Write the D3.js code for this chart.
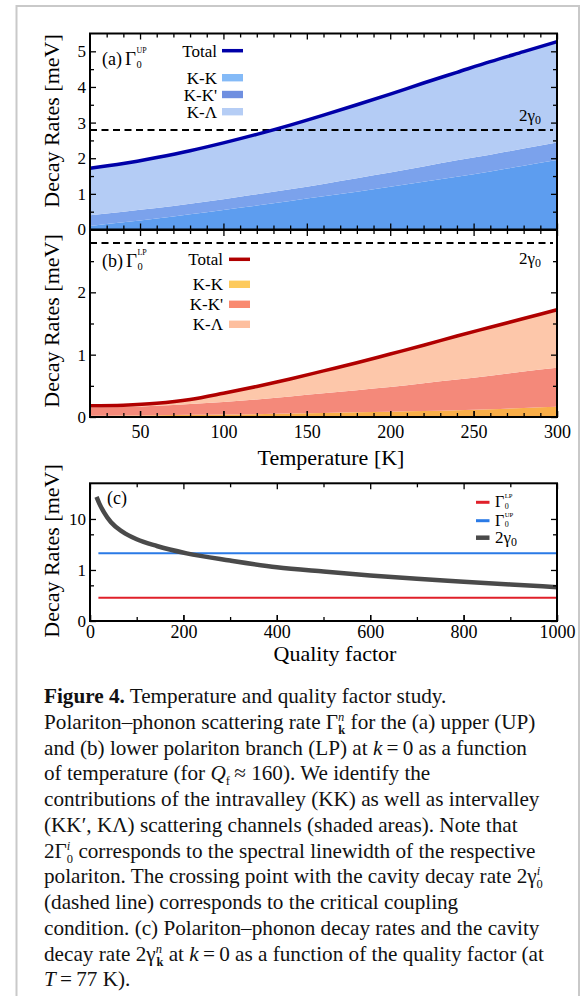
<!DOCTYPE html>
<html>
<head>
<meta charset="utf-8">
<script src="https://cdn.jsdelivr.net/npm/d3@7"></script>
<style>
  body { margin: 0; background: #fff; }
  svg { display: block; font-family: "Liberation Serif", "Times New Roman", serif; }
  .axis path { display: none; }
  .axis line { stroke: #000; stroke-width: 1.3; }
  .axis text { font-family: "Liberation Serif", serif; fill: #000; }
</style>
</head>
<body>
<script>
// Temperatures (K) for panels (a) and (b)
var temps = [20, 40, 60, 80, 100, 120, 140, 160, 180, 200, 220, 240, 260, 280, 300];

// Upper polariton, contribution of each scattering channel (meV)
var upKK  = [0.10, 0.20, 0.31, 0.43, 0.55, 0.67, 0.80, 0.93, 1.06, 1.20, 1.34, 1.48, 1.63, 1.79, 1.95];
var upKKp = [0.30, 0.30, 0.29, 0.29, 0.30, 0.32, 0.33, 0.35, 0.38, 0.40, 0.43, 0.46, 0.47, 0.48, 0.49];
var upKL  = [1.32, 1.35, 1.42, 1.49, 1.58, 1.68, 1.80, 1.93, 2.06, 2.20, 2.34, 2.47, 2.61, 2.72, 2.83];

// Lower polariton, contribution of each scattering channel (meV)
var lpKK  = [0.020, 0.025, 0.030, 0.035, 0.040, 0.045, 0.055, 0.065, 0.075, 0.085, 0.095, 0.110, 0.125, 0.145, 0.165];
var lpKKp = [0.130, 0.135, 0.150, 0.175, 0.200, 0.235, 0.275, 0.315, 0.355, 0.395, 0.445, 0.490, 0.535, 0.585, 0.625];
var lpKL  = [0.03, 0.03, 0.04, 0.07, 0.14, 0.21, 0.28, 0.36, 0.44, 0.53, 0.61, 0.70, 0.78, 0.85, 0.93];

// cavity decay rate 2*gamma0 (dashed line, Qf ~ 160)
var cavityRate = 2.79;

// Panel (c): quality factor study at T = 77 K
var qFactor = [14, 20, 30, 45, 70, 100, 143, 207, 300, 400, 500, 600, 700, 800, 900, 1000];
var cavityVsQ = [27, 20, 13.5, 8.6, 5.6, 4.0, 2.95, 2.12, 1.53, 1.13, 0.93, 0.78, 0.67, 0.59, 0.52, 0.46];
var qFlat = [18, 1000];
var rateLP77 = [0.285, 0.285];
var rateUP77 = [2.12, 2.12];

// ticks
var tempMajor = [50, 100, 150, 200, 250, 300];
var tempMinor = [30, 40, 60, 70, 80, 90, 110, 120, 130, 140, 160, 170, 180, 190, 210, 220, 230, 240, 260, 270, 280, 290];
var upMajor = [0, 1, 2, 3, 4, 5];
var upMinor = [0.5, 1.5, 2.5, 3.5, 4.5];
var lpMajor = [0, 1, 2];
var lpMinor = [0.5, 1.5, 2.5];
var qMajor = [0, 200, 400, 600, 800, 1000];
var qMinor = [100, 300, 500, 700, 900];
var cMajor = [0.1, 1, 10];
var cMajorLabels = ["0", "1", "10"];
var cMinor = [0.5, 5];

var channels = ["kk", "kkp", "kl"];

var svg = d3.select("body").append("svg")
  .attr("width", 584)
  .attr("height", 996);

// light frame around the figure
svg.append("path")
  .attr("d", "M16.5,996 V6 H579 V996")
  .attr("fill", "none")
  .attr("stroke", "#c9c9c9")
  .attr("stroke-width", 2);

var left = 90, right = 557;

var xTemp = d3.scaleLinear().domain([20, 300]).range([left, right]);
var yUp = d3.scaleLinear().domain([0, 5.5]).range([229.5, 33.5]);
var yLp = d3.scaleLinear().domain([0, 3]).range([417, 230]);
var xQ = d3.scaleLinear().domain([0, 1000]).range([left, right]);
var yC = d3.scaleLog().domain([0.1, 50]).range([621, 483.3]);

// draws inward ticks on the four sides of a panel
function drawTicks(x, y, xMaj, xMin, yMaj, yMin) {
  var y0 = y.range()[0], y1 = y.range()[1];
  var g = svg.append("g").attr("class", "axis");
  g.append("g").attr("transform", "translate(0," + y0 + ")")
    .call(d3.axisBottom(x).tickValues(xMaj).tickSize(-6).tickFormat(""));
  g.append("g").attr("transform", "translate(0," + y0 + ")")
    .call(d3.axisBottom(x).tickValues(xMin).tickSize(-4).tickFormat(""));
  g.append("g").attr("transform", "translate(0," + y1 + ")")
    .call(d3.axisTop(x).tickValues(xMaj).tickSize(-6).tickFormat(""));
  g.append("g").attr("transform", "translate(0," + y1 + ")")
    .call(d3.axisTop(x).tickValues(xMin).tickSize(-4).tickFormat(""));
  g.append("g").attr("transform", "translate(" + left + ",0)")
    .call(d3.axisLeft(y).tickValues(yMin).tickSize(-4).tickFormat(""));
  g.append("g").attr("transform", "translate(" + right + ",0)")
    .call(d3.axisRight(y).tickValues(yMaj).tickSize(-6).tickFormat(""));
  g.append("g").attr("transform", "translate(" + right + ",0)")
    .call(d3.axisRight(y).tickValues(yMin).tickSize(-4).tickFormat(""));
  return g;
}

function frame(y) {
  svg.append("rect")
    .attr("x", left).attr("y", y.range()[1])
    .attr("width", right - left).attr("height", y.range()[0] - y.range()[1])
    .attr("fill", "none").attr("stroke", "#000").attr("stroke-width", 2);
}

function yLabel(cy) {
  svg.append("text")
    .attr("transform", "translate(59," + cy + ") rotate(-90)")
    .attr("text-anchor", "middle")
    .attr("font-size", 22)
    .text("Decay Rates [meV]");
}

// stacked channel panels (a) and (b)
function stackPanel(y, kk, kkp, kl, areaColors, lineColor) {
  var rows = temps.map(function(t, i) {
    return { T: t, kk: kk[i], kkp: kkp[i], kl: kl[i] };
  });
  var series = d3.stack().keys(channels)(rows);

  var area = d3.area()
    .x(function(d) { return xTemp(d.data.T); })
    .y0(function(d) { return y(d[0]); })
    .y1(function(d) { return y(d[1]); })
    .curve(d3.curveMonotoneX);

  svg.append("g").selectAll("path")
    .data(series)
    .enter().append("path")
    .attr("d", area)
    .attr("fill", function(d, i) { return areaColors[i]; });

  // cavity decay rate
  svg.append("line")
    .attr("x1", left).attr("x2", right - 4)
    .attr("y1", y(cavityRate)).attr("y2", y(cavityRate))
    .attr("stroke", "#000").attr("stroke-width", 2)
    .attr("stroke-dasharray", "7,4.5");

  var totalLine = d3.line()
    .x(function(d) { return xTemp(d.data.T); })
    .y(function(d) { return y(d[1]); })
    .curve(d3.curveMonotoneX);

  svg.append("path")
    .datum(series[2])
    .attr("d", totalLine)
    .attr("fill", "none")
    .attr("stroke", lineColor)
    .attr("stroke-width", 3.5);
}

// symbol with stacked superscript / subscript
function gammaLabel(x, base, main, sup, sub, size, tight) {
  var t = svg.append("text").attr("x", x).attr("y", base).attr("font-size", size).text(main);
  var w = t.node().getComputedTextLength();
  svg.append("text").attr("x", x + w + 0.5).attr("y", base - (tight ? 0.56 : 0.62) * size)
    .attr("font-size", size * 0.42).text(sup);
  svg.append("text").attr("x", x + w + 0.5).attr("y", base + (tight ? 0.08 : 0.16) * size)
    .attr("font-size", size * (tight ? 0.5 : 0.55)).text(sub);
}

// "(a) Γ" style panel tag
function panelTag(x, base, tag, sup) {
  var t = svg.append("text").attr("x", x).attr("y", base).attr("font-size", 18).text(tag);
  var w = t.node().getComputedTextLength();
  gammaLabel(x + w + 3, base, "Γ", sup, "0", 19);
}

function legend(xText, xSw, rows, lineColor) {
  rows.forEach(function(r, i) {
    svg.append("text")
      .attr("x", xText).attr("y", r.y + 6)
      .attr("text-anchor", "end")
      .attr("font-size", 17)
      .text(r.label);
    if (i === 0) {
      svg.append("line")
        .attr("x1", xSw).attr("x2", xSw + 21)
        .attr("y1", r.y).attr("y2", r.y)
        .attr("stroke", lineColor).attr("stroke-width", 3.5);
    } else {
      svg.append("rect")
        .attr("x", xSw).attr("y", r.y - 3.7)
        .attr("width", 21).attr("height", 7.4)
        .attr("fill", r.color);
    }
  });
}

function twoGamma(x, base, size) {
  var t = svg.append("text").attr("x", x).attr("y", base).attr("font-size", size).text("2γ");
  var w = t.node().getComputedTextLength();
  svg.append("text").attr("x", x + w).attr("y", base + 0.2 * size)
    .attr("font-size", size * 0.7).text("0");
}

// ---------- panel (a) ----------
stackPanel(yUp, upKK, upKKp, upKL, ["#5d9def", "#7ba2ec", "#b4ccf5"], "#0000a8");
frame(yUp);
var ga = drawTicks(xTemp, yUp, tempMajor, tempMinor, upMajor, upMinor);
ga.append("g").attr("transform", "translate(" + left + ",0)")
  .call(d3.axisLeft(yUp).tickValues(upMajor).tickSize(-6).tickPadding(4).tickFormat(d3.format("d")))
  .selectAll("text").attr("font-size", 17);
yLabel(121);
panelTag(102, 65, "(a)", "UP");
legend(217, 222, [
  { label: "Total", y: 50.7 },
  { label: "K-K", y: 77.7, color: "#84baf7" },
  { label: "K-K'", y: 94.5, color: "#6f8fe0" },
  { label: "K-Λ", y: 111.7, color: "#b5cdf5" }
], "#0000a8");
twoGamma(519, 121, 17);

// ---------- panel (b) ----------
stackPanel(yLp, lpKK, lpKKp, lpKL, ["#f9ae48", "#f4897a", "#fdc7aa"], "#b00000");
frame(yLp);
var gb = drawTicks(xTemp, yLp, tempMajor, tempMinor, lpMajor, lpMinor);
gb.append("g").attr("transform", "translate(" + left + ",0)")
  .call(d3.axisLeft(yLp).tickValues(lpMajor).tickSize(-6).tickPadding(4).tickFormat(d3.format("d")))
  .selectAll("text").attr("font-size", 17);
gb.append("g").attr("transform", "translate(0," + yLp.range()[0] + ")")
  .call(d3.axisBottom(xTemp).tickValues(tempMajor).tickSize(-6).tickPadding(8).tickFormat(d3.format("d")))
  .selectAll("text").attr("font-size", 18);
yLabel(321);
panelTag(102, 267, "(b)", "LP");
legend(223, 229, [
  { label: "Total", y: 259.3 },
  { label: "K-K", y: 284.3, color: "#fdca5c" },
  { label: "K-K'", y: 304.3, color: "#f98a70" },
  { label: "K-Λ", y: 324.3, color: "#fdbf9f" }
], "#b00000");
twoGamma(519, 264, 17);
svg.append("text")
  .attr("x", 331).attr("y", 465)
  .attr("text-anchor", "middle")
  .attr("font-size", 22)
  .text("Temperature [K]");

// ---------- panel (c) ----------
var flatLine = d3.line()
  .x(function(d) { return xQ(d[0]); })
  .y(function(d) { return yC(d[1]); });

svg.append("path")
  .attr("d", flatLine(d3.zip(qFlat, rateLP77)))
  .attr("fill", "none").attr("stroke", "#e0202a").attr("stroke-width", 2);
svg.append("path")
  .attr("d", flatLine(d3.zip(qFlat, rateUP77)))
  .attr("fill", "none").attr("stroke", "#2a7ae6").attr("stroke-width", 2);
svg.append("path")
  .attr("d", flatLine.curve(d3.curveMonotoneX)(d3.zip(qFactor, cavityVsQ)))
  .attr("fill", "none").attr("stroke", "#4a4a4a").attr("stroke-width", 4.5);

frame(yC);
var gc = drawTicks(xQ, yC, qMajor, qMinor, cMajor, cMinor);
gc.append("g").attr("transform", "translate(" + left + ",0)")
  .call(d3.axisLeft(yC).tickValues(cMajor).tickSize(-6).tickPadding(4)
    .tickFormat(function(d, i) { return cMajorLabels[i]; }))
  .selectAll("text").attr("font-size", 17);
gc.append("g").attr("transform", "translate(0," + yC.range()[0] + ")")
  .call(d3.axisBottom(xQ).tickValues(qMajor).tickSize(-6).tickPadding(4.5).tickFormat(d3.format("d")))
  .selectAll("text").attr("font-size", 18);
yLabel(551);
svg.append("text").attr("x", 107).attr("y", 504).attr("font-size", 18).text("(c)");
svg.append("text")
  .attr("x", 335).attr("y", 661)
  .attr("text-anchor", "middle")
  .attr("font-size", 22)
  .text("Quality factor");

// legend (c)
[
  { y: 502.3, color: "#e0202a", w: 3, sup: "LP" },
  { y: 520.7, color: "#2a7ae6", w: 3, sup: "UP" }
].forEach(function(r) {
  svg.append("line").attr("x1", 476).attr("x2", 489.5)
    .attr("y1", r.y).attr("y2", r.y)
    .attr("stroke", r.color).attr("stroke-width", r.w);
  gammaLabel(495, r.y + 5, "Γ", r.sup, "0", 16, true);
});
svg.append("line").attr("x1", 476).attr("x2", 489.5)
  .attr("y1", 537.7).attr("y2", 537.7)
  .attr("stroke", "#4a4a4a").attr("stroke-width", 4.5);
twoGamma(495, 543, 17);

// ---------- caption ----------
var capLines = [
  [{ t: "Figure 4.", b: 1 }, { t: " Temperature and quality factor study." }],
  [{ t: "Polariton–phonon scattering rate Γ" }, { t: "n", i: 1, sup: 1 }, { t: "k", b: 1, sub: 1, back: 6 }, { t: " for the (a) upper (UP)" }],
  [{ t: "and (b) lower polariton branch (LP) at " }, { t: "k", i: 1 }, { t: "\u2009=\u20090 as a function" }],
  [{ t: "of temperature (for " }, { t: "Q", i: 1 }, { t: "f", sub: 1 }, { t: "\u2009≈ 160). We identify the" }],
  [{ t: "contributions of the intravalley (KK) as well as intervalley" }],
  [{ t: "(KK′, KΛ) scattering channels (shaded areas). Note that" }],
  [{ t: "2Γ" }, { t: "i", i: 1, sup: 1 }, { t: "0", sub: 1, back: 3.5 }, { t: " corresponds to the spectral linewidth of the respective" }],
  [{ t: "polariton. The crossing point with the cavity decay rate 2γ" }, { t: "i", i: 1, sup: 1 }, { t: "0", sub: 1, back: 3.5 }],
  [{ t: "(dashed line) corresponds to the critical coupling" }],
  [{ t: "condition. (c) Polariton–phonon decay rates and the cavity" }],
  [{ t: "decay rate 2γ" }, { t: "n", i: 1, sup: 1 }, { t: "k", b: 1, sub: 1, back: 5.5 }, { t: " at " }, { t: "k", i: 1 }, { t: "\u2009=\u20090 as a function of the quality factor (at" }],
  [{ t: "T", i: 1 }, { t: "\u2009=\u200977 K)." }]
];

var cap = svg.append("text")
  .attr("font-size", 21.2)
  .attr("fill", "#111");

capLines.forEach(function(line, li) {
  var cur = 0;
  line.forEach(function(seg, si) {
    var off = seg.sup ? -8 : (seg.sub ? 5 : 0);
    var ts = cap.append("tspan").text(seg.t);
    if (si === 0) {
      ts.attr("x", 44).attr("y", 703 + li * 25.75 + off);
    } else {
      ts.attr("dy", off - cur);
    }
    if (seg.back) ts.attr("dx", -seg.back);
    if (seg.sup || seg.sub) ts.attr("font-size", 12.5);
    if (seg.b) ts.attr("font-weight", "bold");
    if (seg.i) ts.attr("font-style", "italic");
    cur = off;
  });
});
</script>
</body>
</html>
